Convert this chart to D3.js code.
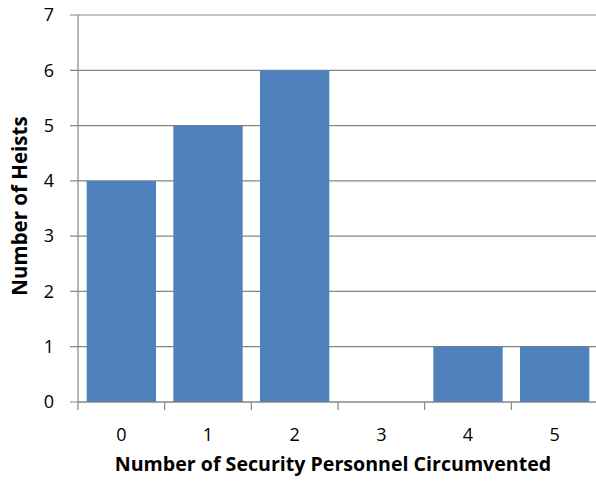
<!DOCTYPE html>
<html>
<head>
<meta charset="utf-8">
<script src="https://cdn.jsdelivr.net/npm/d3@7/dist/d3.min.js"></script>
<style>
  html, body { margin: 0; padding: 0; background: #fff; }
  svg { display: block; }
  text { font-family: "Open Sans", "Noto Sans", sans-serif; fill: #000; }
</style>
</head>
<body>
<script>
// Heists grouped by how many security personnel were circumvented
const categories = ["0", "1", "2", "3", "4", "5"];
const heists = [4, 5, 6, 0, 1, 1];
const yTicks = [0, 1, 2, 3, 4, 5, 6, 7];

const width = 596, height = 482;
const margin = { top: 15, right: -2, bottom: 80, left: 78 };
const innerW = width - margin.left - margin.right;
const innerH = height - margin.top - margin.bottom;

const svg = d3.select("body").append("svg")
  .attr("width", width).attr("height", height);

const g = svg.append("g").attr("transform", `translate(${margin.left},${margin.top})`);

const x = d3.scaleBand().domain(categories).range([0, innerW]).paddingInner(0.2).paddingOuter(0.1);
const y = d3.scaleLinear().domain([0, 7]).range([innerH, 0]);

const gridColor = "#868686";

// horizontal gridlines with left tick stubs
g.append("g").selectAll("line").data(yTicks).join("line")
  .attr("x1", -8).attr("x2", innerW)
  .attr("y1", d => y(d)).attr("y2", d => y(d))
  .attr("stroke", gridColor).attr("stroke-width", 1.2);

// bars
g.append("g").selectAll("rect").data(heists).join("rect")
  .attr("x", (d, i) => x(categories[i]))
  .attr("width", x.bandwidth())
  .attr("y", d => y(d))
  .attr("height", d => innerH - y(d))
  .attr("fill", "#4F81BD");

// y axis line
g.append("line").attr("x1", 0).attr("x2", 0).attr("y1", 0).attr("y2", innerH)
  .attr("stroke", gridColor).attr("stroke-width", 1.2);

// x axis baseline and category boundary ticks
g.append("line").attr("x1", 0).attr("x2", innerW).attr("y1", innerH).attr("y2", innerH)
  .attr("stroke", gridColor).attr("stroke-width", 1.2);
const boundaries = d3.range(categories.length + 1).map(i => i * innerW / categories.length);
g.append("g").selectAll("line").data(boundaries).join("line")
  .attr("x1", d => d).attr("x2", d => d)
  .attr("y1", innerH).attr("y2", innerH + 8)
  .attr("stroke", gridColor).attr("stroke-width", 1.2);

// y tick labels
g.append("g").selectAll("text").data(yTicks).join("text")
  .attr("x", -24).attr("y", d => y(d)).attr("dy", "0.35em")
  .attr("text-anchor", "end").attr("font-size", 18)
  .text(d => d);

// x tick labels
g.append("g").selectAll("text").data(categories).join("text")
  .attr("x", d => x(d) + x.bandwidth() / 2).attr("y", innerH + 39)
  .attr("text-anchor", "middle").attr("font-size", 18)
  .text(d => d);

// axis titles
svg.append("text")
  .attr("x", 333).attr("y", 471)
  .attr("text-anchor", "middle").attr("font-size", 19.6).attr("font-weight", "bold")
  .text("Number of Security Personnel Circumvented");

svg.append("text")
  .attr("transform", `translate(27, 206) rotate(-90)`)
  .attr("text-anchor", "middle").attr("font-size", 20.5).attr("font-weight", "bold")
  .text("Number of Heists");
</script>
</body>
</html>
